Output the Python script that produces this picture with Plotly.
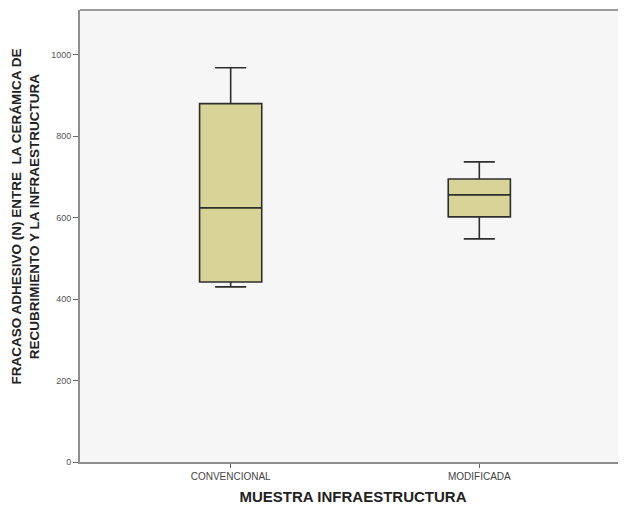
import plotly.graph_objects as go

categories = ["CONVENCIONAL", "MODIFICADA"]
lower_whisker = [430, 548]
q1_vals = [442, 602]
median_vals = [624, 656]
q3_vals = [880, 695]
upper_whisker = [968, 737]
y_ticks = [0, 200, 400, 600, 800, 1000]
y_title = "<b>FRACASO ADHESIVO (N) ENTRE  LA CERÁMICA DE<br>RECUBRIMIENTO Y LA INFRAESTRUCTURA</b>"
x_title = "<b>MUESTRA INFRAESTRUCTURA</b>"

fig = go.Figure()
fig.add_trace(go.Box(
    x=categories,
    q1=q1_vals, median=median_vals, q3=q3_vals,
    lowerfence=lower_whisker, upperfence=upper_whisker,
    fillcolor="rgb(216,212,152)",
    line=dict(color="#2e2e2e", width=1.6),
    width=0.25, whiskerwidth=0.5,
    boxpoints=False, showlegend=False, hoverinfo="skip",
))

fig.update_layout(
    width=618, height=503,
    margin=dict(l=72, r=0, t=2, b=49),
    paper_bgcolor="white",
    plot_bgcolor="#f6f6f6",
    font=dict(family="Liberation Sans, Arial, sans-serif", color="#333"),
    shapes=[dict(type="line", xref="paper", yref="paper", x0=0, x1=1, y0=1, y1=1,
                 line=dict(color="#9a9a9a", width=2))],
    annotations=[dict(text=y_title, textangle=-90, xref="paper", yref="paper",
                      x=-0.0998, y=0.542, xanchor="center", yanchor="middle",
                      showarrow=False, font=dict(size=13.5, color="#222"))],
)
fig.update_xaxes(
    type="category", range=[-0.606, 1.59],
    showline=True, linecolor="#8f8f8f", linewidth=2,
    ticks="outside", ticklen=4, tickcolor="#666",
    tickfont=dict(size=10, color="#444", family="Liberation Sans Narrow, Arial Narrow, sans-serif"),
    showgrid=False, zeroline=False,
    title=dict(text=x_title, font=dict(size=15, color="#222"), standoff=10),
)
fig.update_yaxes(
    range=[0, 1110], tickvals=y_ticks,
    showline=True, linecolor="#8f8f8f", linewidth=2,
    ticks="outside", ticklen=5, tickcolor="#666",
    tickfont=dict(size=9, color="#555"),
    showgrid=False, zeroline=False,
)

fig.write_html("out.html")
